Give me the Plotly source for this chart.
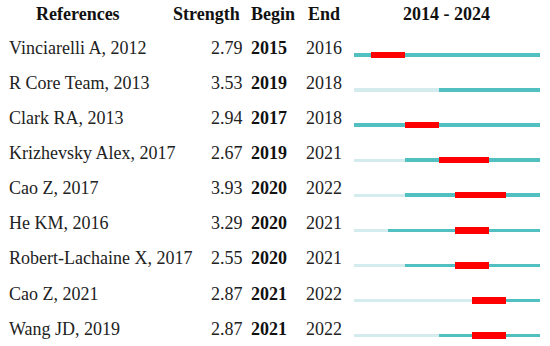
import plotly.graph_objects as go

references = ["Vinciarelli A, 2012", "R Core Team, 2013", "Clark RA, 2013",
              "Krizhevsky Alex, 2017", "Cao Z, 2017", "He KM, 2016",
              "Robert-Lachaine X, 2017", "Cao Z, 2021", "Wang JD, 2019"]
strength = [2.79, 3.53, 2.94, 2.67, 3.93, 3.29, 2.55, 2.87, 2.87]
begin = [2015, 2019, 2017, 2019, 2020, 2020, 2020, 2021, 2021]
end = [2016, 2018, 2018, 2021, 2022, 2021, 2021, 2022, 2022]
# first year drawn in dark teal (before it: light)
active_from = [2014, 2019, 2014, 2017, 2017, 2016, 2017, 2021, 2019]
start_year, end_year = 2014, 2024
headers = ["References", "Strength", "Begin", "End", "2014 - 2024"]

W, H = 550, 346
row0, step = 54.8, 35.1
x0px, x1px = 354, 540

rows = list(range(len(references)))

fig = go.Figure()

light_base, light_len, light_y = [], [], []
dark_base, dark_len = [], []
red_base, red_len, red_y = [], [], []
for i in rows:
    if active_from[i] > start_year:
        light_base.append(start_year)
        light_len.append(active_from[i] - start_year)
        light_y.append(i)
    dark_base.append(active_from[i])
    dark_len.append(end_year + 1 - active_from[i])
    if end[i] >= begin[i]:
        red_base.append(begin[i])
        red_len.append(end[i] + 1 - begin[i])
        red_y.append(i)

dark_y = rows
fig.add_trace(go.Bar(orientation="h", y=light_y, x=light_len, base=light_base,
                     width=3.2 / step, marker=dict(color="#d4ecee", line=dict(width=0)),
                     hoverinfo="skip", showlegend=False))
fig.add_trace(go.Bar(orientation="h", y=dark_y, x=dark_len, base=dark_base,
                     width=3.6 / step, marker=dict(color="#52bfc0", line=dict(width=0)),
                     hoverinfo="skip", showlegend=False))
fig.add_trace(go.Bar(orientation="h", y=red_y, x=red_len, base=red_base,
                     width=6.5 / step, marker=dict(color="#ff0000", line=dict(width=0)),
                     hoverinfo="skip", showlegend=False))

font = "Liberation Serif, Times New Roman, serif"
fs = 18
ann = []
hdr_y = (14 - row0) / step
hdr_x = [(78, "center"), (206, "center"), (273, "center"), (324, "center"), (446, "center")]
for (px, anc), h in zip(hdr_x, headers):
    ann.append(dict(x=px / W, y=hdr_y, xref="paper", yref="y", text="<b>%s</b>" % h,
                    xanchor=anc, yanchor="middle", showarrow=False,
                    font=dict(family=font, size=fs, color="#111")))
for i in rows:
    ty = i - 7.0 / step
    ann.append(dict(x=7 / W, y=ty, xref="paper", yref="y", text=references[i],
                    xanchor="left", yanchor="middle", showarrow=False,
                    font=dict(family=font, size=fs, color="#222")))
    ann.append(dict(x=245 / W, y=ty, xref="paper", yref="y", text="%.2f" % strength[i],
                    xanchor="right", yanchor="middle", showarrow=False,
                    font=dict(family=font, size=fs, color="#222")))
    ann.append(dict(x=249 / W, y=ty, xref="paper", yref="y", text="<b>%d</b>" % begin[i],
                    xanchor="left", yanchor="middle", showarrow=False,
                    font=dict(family=font, size=fs, color="#111")))
    ann.append(dict(x=304 / W, y=ty, xref="paper", yref="y", text="%d" % end[i],
                    xanchor="left", yanchor="middle", showarrow=False,
                    font=dict(family=font, size=fs, color="#222")))

fig.update_layout(
    width=W, height=H, margin=dict(l=0, r=0, t=0, b=0),
    paper_bgcolor="white", plot_bgcolor="white",
    barmode="overlay", bargap=0,
    annotations=ann,
    xaxis=dict(domain=[x0px / W, x1px / W], range=[start_year, end_year + 1],
               visible=False, fixedrange=True),
    yaxis=dict(range=[(H - row0) / step, -row0 / step], visible=False, fixedrange=True),
)

fig.write_html("out.html", config={"displayModeBar": False},
               post_script="document.body.style.margin='0px';document.body.style.overflow='hidden';")
